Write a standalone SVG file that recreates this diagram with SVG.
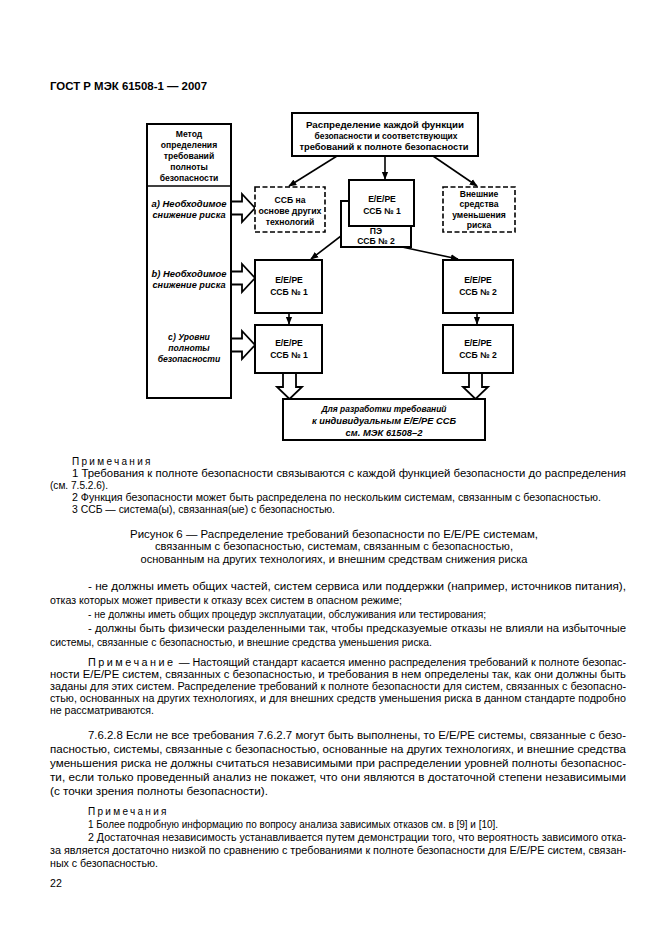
<svg xmlns="http://www.w3.org/2000/svg" width="661" height="936" viewBox="0 0 661 936">
<style>
.bx{fill:#fff;stroke:#000;stroke-width:2}
.dbx{fill:#fff;stroke:#000;stroke-width:1.6;stroke-dasharray:5 2.5}
.ln{fill:none;stroke:#000;stroke-width:1.6}
.ha{fill:#fff;stroke:#000;stroke-width:1.8;stroke-linejoin:miter}
.t{font-family:"Liberation Sans",Arial,sans-serif;font-size:8.6px;font-weight:bold;fill:#000;text-anchor:middle}
.ti{font-family:"Liberation Sans",Arial,sans-serif;font-size:8.6px;font-weight:bold;font-style:italic;fill:#000;text-anchor:middle}
.n{font-family:"Liberation Sans",Arial,sans-serif;font-size:10px;fill:#000}
.b{font-family:"Liberation Sans",Arial,sans-serif;font-size:10.6px;fill:#000}
.c{font-family:"Liberation Sans",Arial,sans-serif;font-size:10px;fill:#000;text-anchor:middle}
.h{font-family:"Liberation Sans",Arial,sans-serif;font-size:11px;font-weight:bold;fill:#000}
</style>
<defs>
<marker id="a" viewBox="0 0 10 10" refX="9" refY="5" markerWidth="5" markerHeight="5" orient="auto">
<path d="M0,1 L10,5 L0,9 z" fill="#000"/>
</marker>
</defs>
<rect width="661" height="936" fill="#fff"/>
<text class="h" x="50" y="90" textLength="157" lengthAdjust="spacingAndGlyphs">ГОСТ Р МЭК 61508-1 — 2007</text>

<g id="connectors">
<line class="ln" x1="337" y1="156" x2="289" y2="186" marker-end="url(#a)"/>
<line class="ln" x1="385" y1="156" x2="385" y2="179" marker-end="url(#a)"/>
<line class="ln" x1="433" y1="156" x2="477" y2="186" marker-end="url(#a)"/>
<line class="ln" x1="354" y1="226" x2="311" y2="259" marker-end="url(#a)"/>
<line class="ln" x1="402" y1="247" x2="458" y2="259" marker-end="url(#a)"/>
<line class="ln" x1="289" y1="313" x2="289" y2="324" marker-end="url(#a)"/>
<line class="ln" x1="477" y1="313" x2="477" y2="324" marker-end="url(#a)"/>
<path class="ha" d="M231,201.5 H242 V194 L255,208 L242,222 V214.5 H231"/>
<path class="ha" d="M231,271.5 H242 V264 L255,278 L242,292 V284.5 H231"/>
<path class="ha" d="M231,338.5 H242 V331 L255,345 L242,359 V351.5 H231"/>
<path class="ha" d="M283,373 V387 H277 L289.5,399 L302,387 H296 V373"/>
<path class="ha" d="M469,373 V387 H463 L475.5,399 L488,387 H482 V373"/>
</g>

<g id="top">
<rect class="bx" x="292" y="113" width="186" height="43"/>
<text class="t" x="385" y="128" textLength="158" lengthAdjust="spacingAndGlyphs">Распределение каждой функции</text>
<text class="t" x="386" y="139" textLength="143" lengthAdjust="spacingAndGlyphs">безопасности и соответствующих</text>
<text class="t" x="384" y="150" textLength="169" lengthAdjust="spacingAndGlyphs">требований к полноте безопасности</text>
</g>

<g id="method">
<rect class="bx" x="147" y="124" width="84" height="274"/>
<line class="ln" x1="147" y1="186" x2="231" y2="186" stroke-width="2"/>
<text class="t" x="189" y="137">Метод</text>
<text class="t" x="189" y="148">определения</text>
<text class="t" x="189" y="159">требований</text>
<text class="t" x="189" y="170">полноты</text>
<text class="t" x="189" y="181">безопасности</text>
<text class="ti" x="189" y="207" textLength="75" lengthAdjust="spacingAndGlyphs">a) Необходимое</text>
<text class="ti" x="189" y="218" textLength="73" lengthAdjust="spacingAndGlyphs">снижение риска</text>
<text class="ti" x="189" y="277" textLength="75" lengthAdjust="spacingAndGlyphs">b) Необходимое</text>
<text class="ti" x="189" y="288" textLength="73" lengthAdjust="spacingAndGlyphs">снижение риска</text>
<text class="ti" x="189" y="340">c) Уровни</text>
<text class="ti" x="189" y="351">полноты</text>
<text class="ti" x="189" y="362">безопасности</text>
</g>

<g id="other-tech">
<rect class="dbx" x="255" y="187" width="70" height="45"/>
<text class="t" x="290" y="203">ССБ на</text>
<text class="t" x="290" y="214" textLength="63" lengthAdjust="spacingAndGlyphs">основе других</text>
<text class="t" x="290" y="225">технологий</text>
</g>

<g id="pe2">
<rect class="bx" x="341" y="201" width="70" height="46"/>
<text class="t" x="376" y="234">ПЭ</text>
<text class="t" x="376" y="244">ССБ № 2</text>
</g>

<g id="eepe1-top">
<rect class="bx" x="349" y="180" width="65" height="46"/>
<text class="t" x="382" y="202">E/E/PE</text>
<text class="t" x="382" y="214">ССБ № 1</text>
</g>

<g id="external">
<rect class="dbx" x="443" y="187" width="72" height="45"/>
<text class="t" x="479" y="197">Внешние</text>
<text class="t" x="479" y="207">средства</text>
<text class="t" x="479" y="218">уменьшения</text>
<text class="t" x="479" y="228">риска</text>
</g>

<g id="eepe1-mid">
<rect class="bx" x="255" y="260" width="67" height="53"/>
<text class="t" x="289" y="283">E/E/PE</text>
<text class="t" x="289" y="295">ССБ № 1</text>
</g>

<g id="eepe2-mid">
<rect class="bx" x="443" y="260" width="70" height="53"/>
<text class="t" x="478" y="283">E/E/PE</text>
<text class="t" x="478" y="295">ССБ № 2</text>
</g>

<g id="eepe1-bot">
<rect class="bx" x="255" y="325" width="67" height="48"/>
<text class="t" x="289" y="346">E/E/PE</text>
<text class="t" x="289" y="358">ССБ № 1</text>
</g>

<g id="eepe2-bot">
<rect class="bx" x="443" y="325" width="70" height="48"/>
<text class="t" x="478" y="346">E/E/PE</text>
<text class="t" x="478" y="358">ССБ № 2</text>
</g>

<g id="develop">
<rect class="bx" x="283" y="399" width="202" height="41"/>
<text class="ti" x="384" y="412" textLength="125" lengthAdjust="spacingAndGlyphs">Для разработки требований</text>
<text class="ti" x="384" y="424" textLength="144" lengthAdjust="spacingAndGlyphs">к индивидуальным E/E/PE ССБ</text>
<text class="ti" x="384" y="436" textLength="77" lengthAdjust="spacingAndGlyphs">см. МЭК 61508–2</text>
</g>

<text class="n" x="72" y="465" letter-spacing="2.3">Примечания</text>
<text class="n" x="72" y="477" textLength="554" lengthAdjust="spacingAndGlyphs">1 Требования к полноте безопасности связываются с каждой функцией безопасности до распределения</text>
<text class="n" x="50" y="489" textLength="58" lengthAdjust="spacingAndGlyphs">(см. 7.5.2.6).</text>
<text class="n" x="72" y="501" textLength="529" lengthAdjust="spacingAndGlyphs">2 Функция безопасности может быть распределена по нескольким системам, связанным с безопасностью.</text>
<text class="n" x="72" y="513" textLength="263" lengthAdjust="spacingAndGlyphs">3 ССБ — система(ы), связанная(ые) с безопасностью.</text>

<text class="c" x="334" y="538" textLength="408" lengthAdjust="spacingAndGlyphs">Рисунок 6 — Распределение требований безопасности по E/E/PE системам,</text>
<text class="c" x="334" y="550" textLength="358" lengthAdjust="spacingAndGlyphs">связанным с безопасностью, системам, связанным с безопасностью,</text>
<text class="c" x="334" y="563" textLength="387" lengthAdjust="spacingAndGlyphs">основанным на других технологиях, и внешним средствам снижения риска</text>

<text class="b" x="88" y="590" textLength="538" lengthAdjust="spacingAndGlyphs">- не должны иметь общих частей, систем сервиса или поддержки (например, источников питания),</text>
<text class="b" x="50" y="604" textLength="352" lengthAdjust="spacingAndGlyphs">отказ которых может привести к отказу всех систем в опасном режиме;</text>
<text class="b" x="88" y="618" textLength="398" lengthAdjust="spacingAndGlyphs">- не должны иметь общих процедур эксплуатации, обслуживания или тестирования;</text>
<text class="b" x="88" y="632" textLength="538" lengthAdjust="spacingAndGlyphs">- должны быть физически разделенными так, чтобы предсказуемые отказы не влияли на избыточные</text>
<text class="b" x="50" y="646" textLength="382" lengthAdjust="spacingAndGlyphs">системы, связанные с безопасностью, и внешние средства уменьшения риска.</text>

<text class="n" x="88" y="666" textLength="538" lengthAdjust="spacingAndGlyphs"><tspan letter-spacing="2.3">Примечание</tspan> — Настоящий стандарт касается именно распределения требований к полноте безопас-</text>
<text class="n" x="50" y="678" textLength="576" lengthAdjust="spacingAndGlyphs">ности E/E/PE систем, связанных с безопасностью, и требования в нем определены так, как они должны быть</text>
<text class="n" x="50" y="690" textLength="576" lengthAdjust="spacingAndGlyphs">заданы для этих систем. Распределение требований к полноте безопасности для систем, связанных с безопасно-</text>
<text class="n" x="50" y="702" textLength="576" lengthAdjust="spacingAndGlyphs">стью, основанных на других технологиях, и для внешних средств уменьшения риска в данном стандарте подробно</text>
<text class="n" x="50" y="714" textLength="104" lengthAdjust="spacingAndGlyphs">не  рассматриваются.</text>

<text class="b" x="88" y="739" textLength="538" lengthAdjust="spacingAndGlyphs">7.6.2.8 Если не все требования 7.6.2.7 могут быть выполнены, то E/E/PE системы, связанные с безо-</text>
<text class="b" x="50" y="753" textLength="576" lengthAdjust="spacingAndGlyphs">пасностью, системы, связанные с безопасностью, основанные на других технологиях, и внешние средства</text>
<text class="b" x="50" y="767" textLength="576" lengthAdjust="spacingAndGlyphs">уменьшения риска не должны считаться независимыми при распределении уровней полноты безопаснос-</text>
<text class="b" x="50" y="781" textLength="576" lengthAdjust="spacingAndGlyphs">ти, если только проведенный анализ не покажет,  что  они  являются в достаточной  степени  независимыми</text>
<text class="b" x="50" y="795" textLength="218" lengthAdjust="spacingAndGlyphs">(с точки зрения полноты безопасности).</text>

<text class="n" x="88" y="815" letter-spacing="2.3">Примечания</text>
<text class="n" x="88" y="828" textLength="410" lengthAdjust="spacingAndGlyphs">1 Более подробную информацию по вопросу анализа зависимых отказов см. в [9] и [10].</text>
<text class="n" x="88" y="841" textLength="538" lengthAdjust="spacingAndGlyphs">2 Достаточная независимость устанавливается путем демонстрации того, что вероятность зависимого отка-</text>
<text class="n" x="50" y="854" textLength="576" lengthAdjust="spacingAndGlyphs">за является достаточно низкой по сравнению с требованиями к полноте безопасности для E/E/PE систем, связан-</text>
<text class="n" x="50" y="867" textLength="108" lengthAdjust="spacingAndGlyphs">ных с безопасностью.</text>
<text class="b" x="50" y="887">22</text>
</svg>
